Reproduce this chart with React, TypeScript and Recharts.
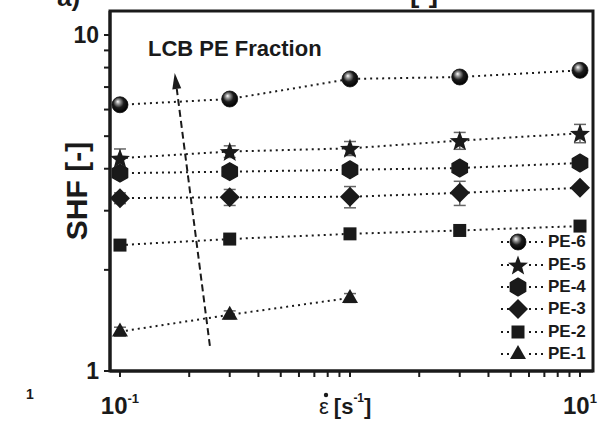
import { ScatterChart, Scatter, XAxis, YAxis, ErrorBar, ReferenceLine, ReferenceArea, Legend } from 'recharts'

// strain rates [1/s]
const rates = [0.1, 0.3, 1, 3, 10]

// strain hardening factor per fraction
const pe6 = [6.2, 6.45, 7.4, 7.5, 7.85]
const pe5 = [4.3, 4.5, 4.6, 4.85, 5.1]
const pe4 = [3.88, 3.92, 3.97, 4.02, 4.16]
const pe3 = [3.27, 3.29, 3.3, 3.39, 3.51]
const pe2 = [2.37, 2.47, 2.56, 2.62, 2.7]
const pe1 = [1.31, 1.47, 1.65]

// error bar half-widths
const pe6Err = [0.08, 0.08, 0.1, 0.1, 0.1]
const pe5Err = [0.28, 0.18, 0.22, 0.28, 0.32]
const pe4Err = [0.08, 0.08, 0.1, 0.1, 0.1]
const pe3Err = [0.12, 0.18, 0.24, 0.28, 0.08]
const pe2Err = [0.04, 0.04, 0.05, 0.05, 0.05]
const pe1Err = [0.04, 0.04, 0.05]

const seriesNames = ['PE-6', 'PE-5', 'PE-4', 'PE-3', 'PE-2', 'PE-1']
const markerKinds = ['sphere', 'star', 'hexagon', 'diamond', 'square', 'triangle']

const xTicks = [0.1, 0.2, 0.3, 0.4, 0.5, 0.6, 0.7, 0.8, 0.9, 1, 2, 3, 4, 5, 6, 7, 8, 9, 10]
const yTicks = [1, 2, 3, 4, 5, 6, 7, 8, 9, 10]

// dashed "increasing LCB fraction" arrow, tail -> tip
const arrowX = [0.246, 0.173]
const arrowY = [1.187, 7.71]

const xDomain = [0.0905, 11.39]
const yDomain = [1, 11.79]

const FONT = '"Liberation Sans", Arial, sans-serif'
const INK = '#1a1a1a'

const toPoints = (vals: number[], errs: number[]) =>
  vals.map((y, i) => ({ x: rates[i], y, err: errs[i] }))

const series = [
  { name: seriesNames[5], kind: markerKinds[5], data: toPoints(pe1, pe1Err) },
  { name: seriesNames[4], kind: markerKinds[4], data: toPoints(pe2, pe2Err) },
  { name: seriesNames[3], kind: markerKinds[3], data: toPoints(pe3, pe3Err) },
  { name: seriesNames[2], kind: markerKinds[2], data: toPoints(pe4, pe4Err) },
  { name: seriesNames[1], kind: markerKinds[1], data: toPoints(pe5, pe5Err) },
  { name: seriesNames[0], kind: markerKinds[0], data: toPoints(pe6, pe6Err) },
]

function Marker({ kind, cx, cy }: { kind: string; cx: number; cy: number }) {
  if (kind === 'sphere') {
    return (
      <g>
        <defs>
          <radialGradient id="sphereFill" cx="45%" cy="40%" r="60%" fx="36%" fy="30%">
            <stop offset="0%" stopColor="#ffffff" />
            <stop offset="22%" stopColor="#9a9a9a" />
            <stop offset="55%" stopColor="#1c1c1c" />
            <stop offset="100%" stopColor="#000000" />
          </radialGradient>
        </defs>
        <circle cx={cx} cy={cy} r={8} fill="url(#sphereFill)" stroke="#111" strokeWidth={0.8} />
      </g>
    )
  }
  if (kind === 'star') {
    const pts: string[] = []
    for (let i = 0; i < 10; i++) {
      const r = i % 2 === 0 ? 10.5 : 4.4
      const a = -Math.PI / 2 + (i * Math.PI) / 5
      pts.push(`${cx + r * Math.cos(a)},${cy + 1 + r * Math.sin(a)}`)
    }
    return <polygon points={pts.join(' ')} fill={INK} />
  }
  if (kind === 'hexagon') {
    const pts: string[] = []
    for (let i = 0; i < 6; i++) {
      const a = -Math.PI / 2 + (i * Math.PI) / 3
      pts.push(`${cx + 8.8 * Math.cos(a)},${cy + 8.8 * Math.sin(a)}`)
    }
    return <polygon points={pts.join(' ')} fill={INK} strokeLinejoin="round" stroke={INK} strokeWidth={1.5} />
  }
  if (kind === 'diamond') {
    return <polygon points={`${cx},${cy - 10} ${cx + 10},${cy} ${cx},${cy + 10} ${cx - 10},${cy}`} fill={INK} />
  }
  if (kind === 'square') {
    return <rect x={cx - 6.5} y={cy - 6.5} width={13} height={13} fill={INK} />
  }
  return <polygon points={`${cx},${cy - 9} ${cx + 8},${cy + 5} ${cx - 8},${cy + 5}`} fill={INK} />
}

function XTick(props: any) {
  const { x, y, payload } = props
  const v = payload.value
  if (v !== 0.1 && v !== 10) return <g />
  return (
    <text x={x} y={y + 35} textAnchor="middle" fontFamily={FONT} fontWeight="bold" fontSize={24} fill={INK}>
      10
      <tspan dy={-11} fontSize={13}>{v === 0.1 ? '-1' : '1'}</tspan>
    </text>
  )
}

function YTick(props: any) {
  const { x, y, payload } = props
  const v = payload.value
  if (v !== 1 && v !== 10) return <g />
  return (
    <text x={x - 3} y={y} dy="0.36em" textAnchor="end" fontFamily={FONT} fontWeight="bold" fontSize={23} fill={INK}>
      {v}
    </text>
  )
}

function ArrowShape(props: any) {
  const { x1, y1, x2, y2 } = props
  const ang = Math.atan2(y2 - y1, x2 - x1)
  const len = 16
  const half = 4.5
  const bx = x2 - len * Math.cos(ang)
  const by = y2 - len * Math.sin(ang)
  const px = -Math.sin(ang) * half
  const py = Math.cos(ang) * half
  return (
    <g>
      <line x1={x1} y1={y1} x2={bx} y2={by} stroke={INK} strokeWidth={2} strokeDasharray="7 4" />
      <polygon points={`${x2},${y2} ${bx + px},${by + py} ${bx - px},${by - py}`} fill={INK} />
    </g>
  )
}

function LegendRows() {
  return (
    <div style={{ fontFamily: FONT, fontWeight: 'bold', fontSize: 17, color: INK }}>
      {seriesNames.map((name, i) => (
        <div key={name} style={{ display: 'flex', alignItems: 'center', height: 22.4 }}>
          <svg width={48} height={22}>
            <line x1={3} y1={11} x2={12} y2={11} stroke={INK} strokeWidth={2} strokeDasharray="2 4" />
            <Marker kind={markerKinds[i]} cx={20} cy={11} />
            <line x1={31} y1={11} x2={46} y2={11} stroke={INK} strokeWidth={2} strokeDasharray="2 4" />
          </svg>
          <span style={{ marginLeft: 2 }}>{name}</span>
        </div>
      ))}
    </div>
  )
}

export default function App() {
  return (
    <div style={{ position: 'absolute', left: 0, top: 0, background: '#fff' }}>
      <ScatterChart width={613} height={424} margin={{ top: 11, right: 20, bottom: 0, left: 0 }}>
        <XAxis
          dataKey="x"
          type="number"
          scale="log"
          domain={xDomain}
          allowDataOverflow
          ticks={xTicks}
          interval={0}
          height={53}
          tickSize={6}
          axisLine={{ stroke: INK, strokeWidth: 3 }}
          tickLine={{ stroke: INK, strokeWidth: 2 }}
          tick={<XTick />}
        />
        <YAxis
          dataKey="y"
          type="number"
          scale="log"
          domain={yDomain}
          allowDataOverflow
          ticks={yTicks}
          interval={0}
          width={110}
          tickSize={6}
          axisLine={{ stroke: INK, strokeWidth: 3 }}
          tickLine={{ stroke: INK, strokeWidth: 2 }}
          tick={<YTick />}
        />
        <ReferenceArea
          x1={xDomain[0]}
          x2={xDomain[1]}
          y1={yDomain[0]}
          y2={yDomain[1]}
          fill="none"
          stroke={INK}
          strokeWidth={3}
          ifOverflow="visible"
        />
        <ReferenceLine
          segment={[{ x: arrowX[0], y: arrowY[0] }, { x: arrowX[1], y: arrowY[1] }]}
          shape={<ArrowShape />}
          ifOverflow="visible"
        />
        {series.map(s => (
          <Scatter
            key={s.name}
            name={s.name}
            data={s.data}
            line={{ stroke: INK, strokeWidth: 2, strokeDasharray: '2 4' }}
            lineType="joint"
            shape={(p: any) => <Marker kind={s.kind} cx={p.cx} cy={p.cy} />}
            isAnimationActive={false}
          >
            <ErrorBar dataKey="err" direction="y" width={6} stroke="#666" strokeWidth={1.5} isAnimationActive={false} />
          </Scatter>
        ))}
        <Legend
          layout="vertical"
          align="center"
          verticalAlign="middle"
          content={() => <LegendRows />}
          wrapperStyle={{ position: 'absolute', left: 498, top: 231, width: 100 }}
        />
        <text x={148} y={56} fontFamily={FONT} fontWeight="bold" fontSize={22} fill={INK}>
          LCB PE Fraction
        </text>
        <text
          x={76}
          y={191}
          transform="rotate(-90 76 191)"
          textAnchor="middle"
          dominantBaseline="central"
          fontFamily={FONT}
          fontWeight="bold"
          fontSize={30}
          fill={INK}
        >
          SHF [-]
        </text>
        <circle cx={326} cy={395} r={2.2} fill={INK} />
        <text x={319} y={414} fontFamily={FONT} fontSize={22} fill={INK}>
          ε
          <tspan fontWeight="bold" dx={5}>[s</tspan>
          <tspan fontWeight="bold" fontSize={12} dy={-12}>-1</tspan>
          <tspan fontWeight="bold" dy={12}>]</tspan>
        </text>
        <text x={57} y={6} fontFamily={FONT} fontWeight="bold" fontSize={26} fill={INK}>a)</text>
        <text x={410} y={2} fontFamily={FONT} fontWeight="bold" fontSize={28} fill={INK}>[-]</text>
        <text x={26} y={399} fontFamily={FONT} fontWeight="bold" fontSize={14} fill={INK}>1</text>
      </ScatterChart>
    </div>
  )
}
